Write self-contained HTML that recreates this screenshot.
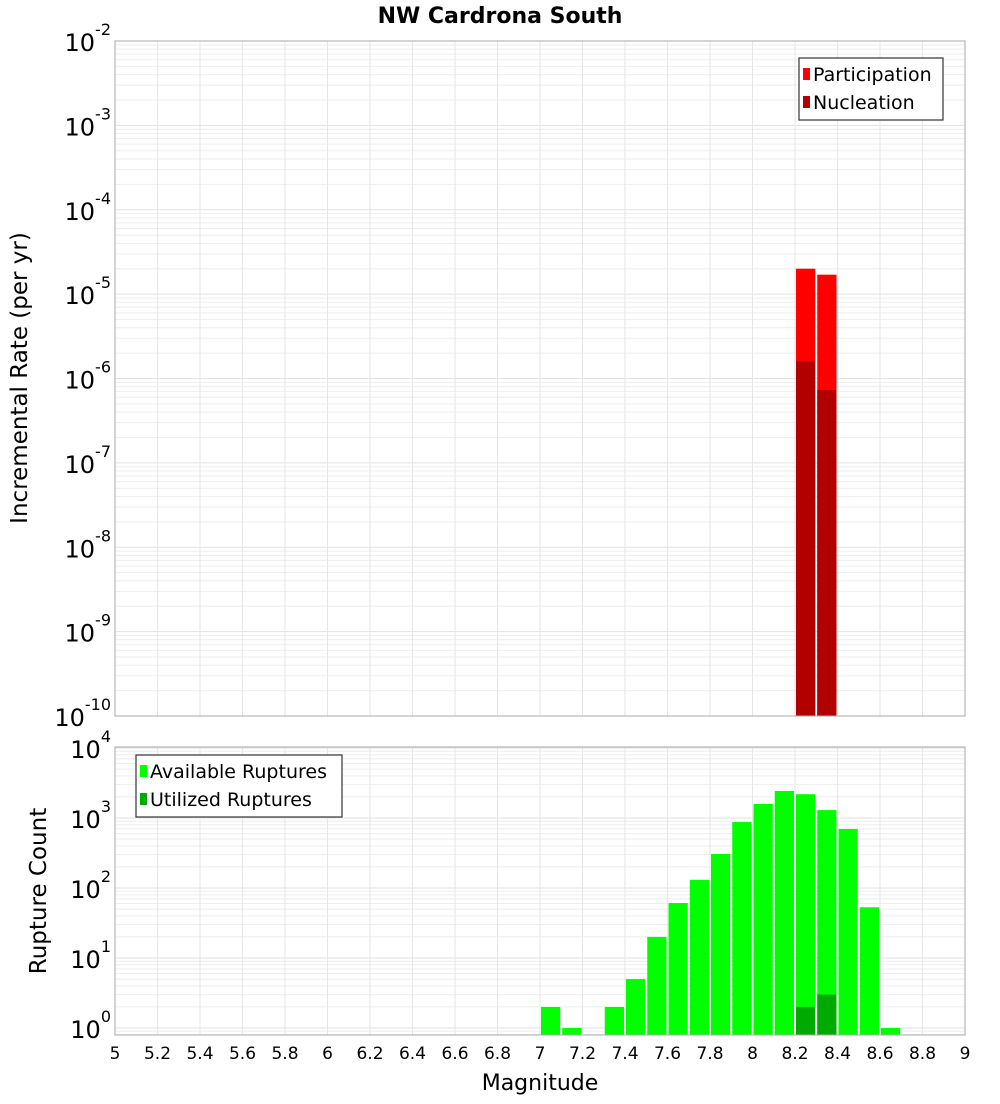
<!DOCTYPE html>
<html><head><meta charset="utf-8"><style>
body{margin:0;background:#fff;font-family:"DejaVu Sans","Liberation Sans",sans-serif}
svg text{font-family:"DejaVu Sans","Liberation Sans",sans-serif}
</style></head><body>
<svg id="c" width="1000" height="1100" xmlns="http://www.w3.org/2000/svg">
<text x="500" y="23" text-anchor="middle" font-size="22" font-weight="bold">NW Cardrona South</text>
<text transform="translate(27,378) rotate(-90)" text-anchor="middle" font-size="23">Incremental Rate (per yr)</text>
<text transform="translate(46,891) rotate(-90)" text-anchor="middle" font-size="23">Rupture Count</text>
<text x="540" y="1090" text-anchor="middle" font-size="22">Magnitude</text>
<g id="top"></g><g id="bot"></g>
</svg>
<script>
const xTicks=[5,5.2,5.4,5.6,5.8,6,6.2,6.4,6.6,6.8,7,7.2,7.4,7.6,7.8,8,8.2,8.4,8.6,8.8,9];
const rateMags=[8.2,8.3];
const participation=[2.0e-5,1.7e-5];
const nucleation=[1.6e-6,7.3e-7];
const countMags=[7.0,7.1,7.3,7.4,7.5,7.6,7.7,7.8,7.9,8.0,8.1,8.2,8.3,8.4,8.5,8.6];
const available=[2,1,2,5,20,61,131,306,875,1585,2434,2187,1297,698,53,1];
const utilMags=[8.2,8.3];
const utilized=[2,3];
const topExps=[-2,-3,-4,-5,-6,-7,-8,-9,-10];
const botExps=[4,3,2,1,0];

const NS="http://www.w3.org/2000/svg";
const X0=115,X1=965;
const xs=m=>X0+(m-5)/4*(X1-X0);
function mk(p,tag,a){const e=document.createElementNS(NS,tag);for(const k in a)e.setAttribute(k,a[k]);p.appendChild(e);return e;}
function panel(g,y0,y1,lmin,lmax){
  const ys=v=>y1-(Math.log10(v)-lmin)/(lmax-lmin)*(y1-y0);
  const bg=mk(g,'rect',{x:X0,y:y0,width:X1-X0,height:y1-y0,fill:'#fff'});
  
  
  for(let e=Math.floor(lmin);e<lmax;e++)for(let k=1;k<10;k++){
    const v=k*Math.pow(10,e);const y=ys(v);if(y<y0-0.1||y>y1+0.1)continue;
    const l=mk(g,'line',{x1:X0,x2:X1,y1:y,y2:y,stroke:k==1?'#e2e2e2':'#eeeeee','stroke-width':1});
    
    
  }
  xTicks.forEach(t=>{const l=mk(g,'line',{x1:xs(t),x2:xs(t),y1:y0,y2:y1,stroke:'#e6e6e6'});
    
    });
  return ys;
}
function bar(g,m,v,ys,y1,fill,name){
  const x=xs(m)+1,w=xs(m+0.1)-xs(m)-2,y=ys(v);
  const r=mk(g,'rect',{x:x,y:y,width:w,height:y1-y,fill:fill});
  
  
}
function ylabel(g,y,exp,name){
  const t=mk(g,'text',{x:X0-4,y:y+10,'text-anchor':'end','font-size':24});
  t.innerHTML='10<tspan dy="-16" font-size="16">'+exp+'</tspan>';
  
  
}
function legend(g,x,y,w,items,name){
  const box=mk(g,'rect',{x:x,y:y,width:w,height:items.length*28+6,fill:'#fff',stroke:'#333','stroke-width':1.2});
  
  
  items.forEach((it,i)=>{
    const s=mk(g,'rect',{x:x+4,y:y+10+i*28,width:7,height:12,fill:it[1]});
    
    
    const t=mk(g,'text',{x:x+14,y:y+23+i*28,'font-size':19});t.textContent=it[0];
    
    
  });
}
// top panel
const gt=document.getElementById('top');
const TY0=41,TY1=716;
const yt=panel(gt,TY0,TY1,-10,-2);
rateMags.forEach((m,i)=>bar(gt,m,participation[i],yt,TY1,'#ff0000','participation-bar'));
rateMags.forEach((m,i)=>bar(gt,m,nucleation[i],yt,TY1,'#b20000','nucleation-bar'));
mk(gt,'rect',{x:X0,y:TY0,width:X1-X0,height:TY1-TY0,fill:'none',stroke:'#aaa'});
topExps.forEach(e=>ylabel(gt,yt(Math.pow(10,e)),e,'top-y-tick-label'));
legend(gt,799,58,144,[['Participation','#ff0000'],['Nucleation','#b20000']],'rate-legend');
// bottom panel
const gb=document.getElementById('bot');
const BY0=747,BY1=1035,BMIN=Math.log10(1)-7/70;
const yb=panel(gb,BY0,BY1,BMIN,BMIN+(BY1-BY0)/70);
countMags.forEach((m,i)=>bar(gb,m,available[i],yb,BY1,'#00ff00','available-bar'));
utilMags.forEach((m,i)=>bar(gb,m,utilized[i],yb,BY1,'#00aa00','utilized-bar'));
mk(gb,'rect',{x:X0,y:BY0,width:X1-X0,height:BY1-BY0,fill:'none',stroke:'#aaa'});
botExps.forEach(e=>ylabel(gb,yb(Math.pow(10,e)),e,'bottom-y-tick-label'));
legend(gb,136,755,206,[['Available Ruptures','#00ff00'],['Utilized Ruptures','#00aa00']],'count-legend');
xTicks.forEach(t=>{const tx=mk(gb,'text',{x:xs(t),y:1059,'text-anchor':'middle','font-size':17});
  tx.textContent=String(t);
  
  });
</script>
</body></html>
